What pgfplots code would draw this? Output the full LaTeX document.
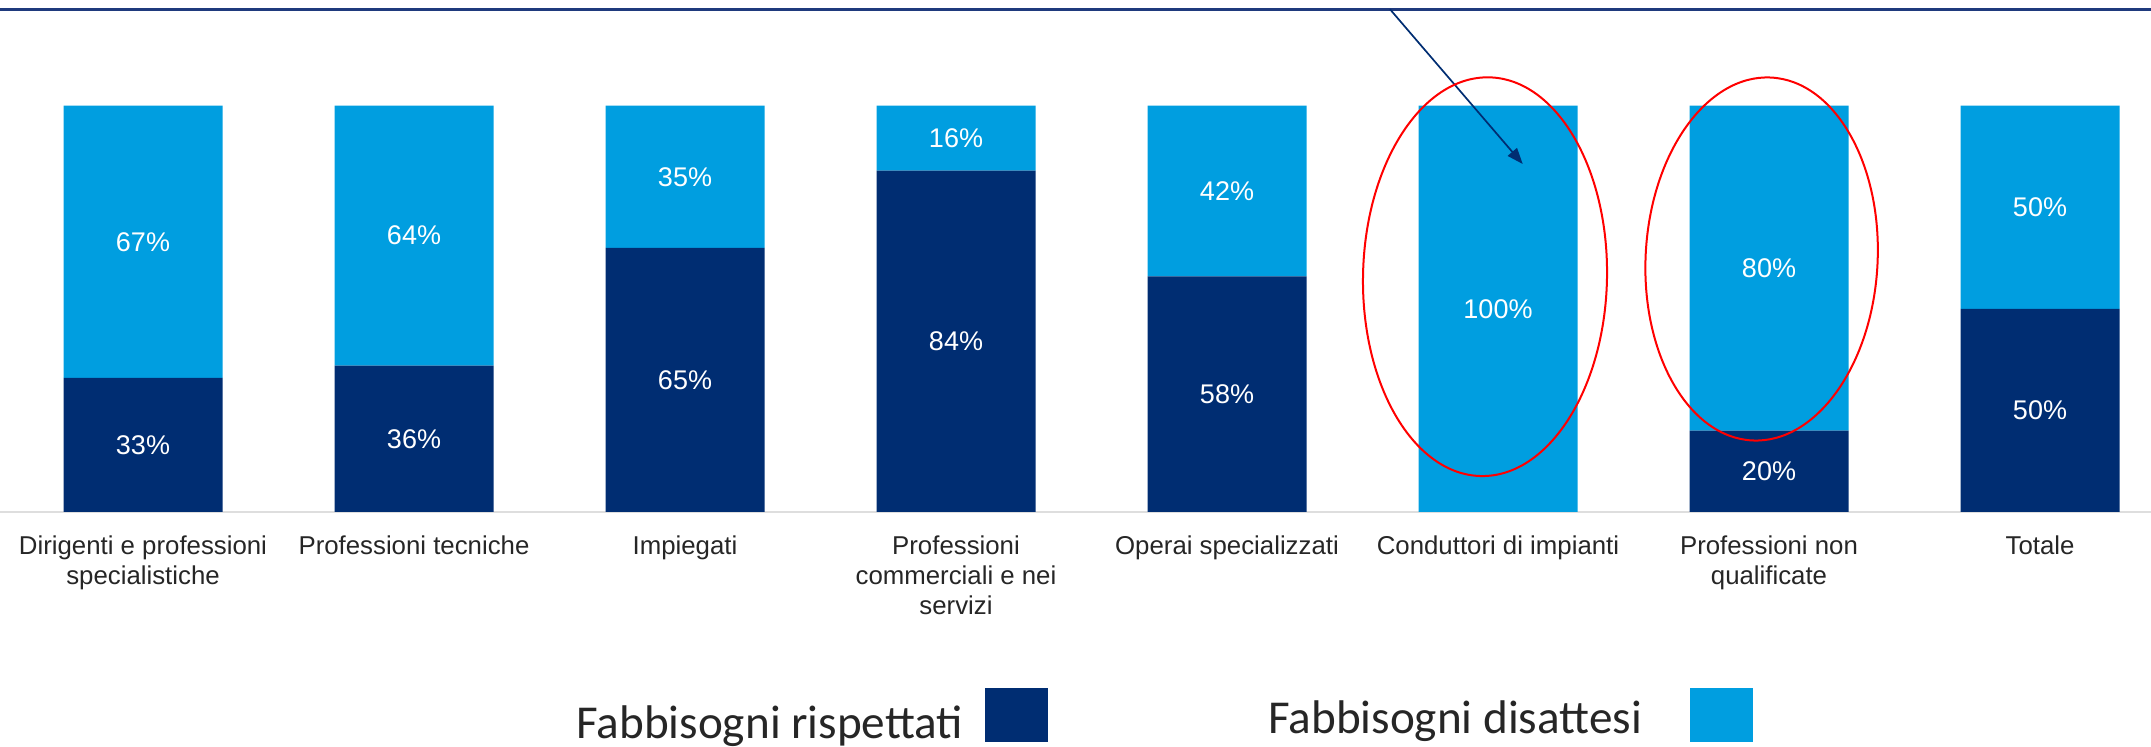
\documentclass[border=0pt]{standalone}
\usepackage{pgfplots}
\pgfplotsset{compat=1.18}
\usepackage{fontspec}
\setmainfont{Liberation Sans}
\newfontfamily\carlito{Carlito}
\usetikzlibrary{arrows.meta}
\definecolor{dark}{RGB}{0,45,114}
\definecolor{light}{RGB}{0,158,224}
\definecolor{topline}{RGB}{31,58,125}
\definecolor{baseg}{RGB}{222,222,222}

\begin{document}
\begin{tikzpicture}
\pgfplotsset{
  common/.style={
    at={(0pt,-52.8pt)}, anchor=north west,
    scale only axis, width=1075.5pt, height=203.2pt,
    xmin=-0.5277, xmax=7.4096, ymin=0, ymax=100,
    clip=false,
  }
}
\begin{axis}[
  common,
  ybar stacked, bar width=79.5pt,
  axis x line*=bottom, hide y axis,
  x axis line style={draw=baseg, line width=0.8pt, -},
  major tick length=0pt,
  xtick={0,1,2,3,4,5,6,7},
  xticklabels={{Dirigenti e professioni\\specialistiche}, Professioni tecniche, Impiegati, {Professioni\\commerciali e nei\\servizi}, Operai specializzati, Conduttori di impianti, {Professioni non\\qualificate}, Totale},
  xticklabel style={font=\fontsize{12.9}{15}\selectfont, align=center, inner sep=0pt, anchor=north, yshift=-11.9pt, text=black!85},
  legend style={draw=none, fill=none, at={(0.2679,-0.4331)}, anchor=north west,
    inner sep=0pt, outer sep=0pt, font=\carlito\fontsize{23.6}{28}\selectfont,
    nodes={inner sep=0pt}, text=black!85,
    /tikz/every odd column/.append style={column sep=11pt},
    /tikz/every even column/.append style={column sep=110pt}},
  legend columns=2, legend plot pos=right,
]
\addplot[fill=dark, draw=none,
  legend image code/.code={\fill[dark] (0pt,-1pt) rectangle (31.5pt,26pt);}]
  coordinates {(0,33) (1,36) (2,65) (3,84) (4,58) (5,0) (6,20) (7,50)};
\addlegendentry{\raisebox{8.3pt}[\height][\depth]{Fabbisogni rispettati}}
\addplot[fill=light, draw=none,
  legend image code/.code={\fill[light] (0pt,-1pt) rectangle (31.5pt,26pt);}]
  coordinates {(0,67) (1,64) (2,35) (3,16) (4,42) (5,100) (6,80) (7,50)};
\addlegendentry{\raisebox{10.8pt}[\height][\depth]{Fabbisogni disattesi}\hspace*{13pt}}
\end{axis}
\begin{axis}[
  common, hide axis,
]
\addplot[draw=none, mark=none, nodes near coords, point meta=explicit symbolic,
  nodes near coords align={center},
  every node near coord/.append style={text=white, font=\fontsize{13.5}{16}\selectfont, anchor=center}]
  coordinates {(0,16.5) [33\%] (1,18) [36\%] (2,32.5) [65\%] (3,42) [84\%] (4,29) [58\%] (6,10) [20\%] (7,25) [50\%]};
\addplot[draw=none, mark=none, nodes near coords, point meta=explicit symbolic,
  nodes near coords align={center},
  every node near coord/.append style={text=white, font=\fontsize{13.5}{16}\selectfont, anchor=center}]
  coordinates {(0,66.5) [67\%] (1,68) [64\%] (2,82.5) [35\%] (3,92) [16\%] (4,79) [42\%] (5,50) [100\%] (6,60) [80\%] (7,75) [50\%]};
\end{axis}
% annotations
\draw[topline, line width=1.3pt] (0pt,-4.85pt) -- (1075.5pt,-4.85pt);
\draw[dark, line width=0.85pt, -{Triangle[length=8pt,width=6pt]}] (695pt,-4.65pt) -- (761.35pt,-82pt);
\draw[red, line width=1pt, rotate around={-1.2:(742.5pt,-138.35pt)}] (742.5pt,-138.35pt) ellipse [x radius=61pt, y radius=99.7pt];
\draw[red, line width=1pt, rotate around={-3:(880.8pt,-129.5pt)}] (880.8pt,-129.5pt) ellipse [x radius=58pt, y radius=90.85pt];
\pgfresetboundingbox
\useasboundingbox (0pt,0pt) rectangle (1075.5pt,-373.5pt);
\end{tikzpicture}
\end{document}
